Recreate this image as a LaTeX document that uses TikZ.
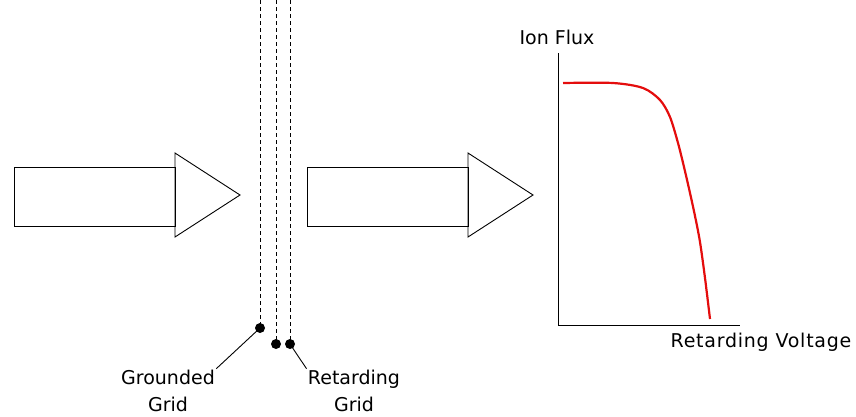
\documentclass[tikz,border=0pt]{standalone}
\usepackage{fontspec}
\setmainfont{DejaVu Sans}
\usetikzlibrary{positioning}
\definecolor{fluxred}{HTML}{E40D0D}

\begin{document}
\begin{tikzpicture}[x=1pt,y=-1pt,line width=0.9pt,font=\fontsize{19}{27}\selectfont]
\useasboundingbox (0,0) rectangle (856,416);
% beam arrows
\foreach \x in {14,307}{
  \draw[fill=white] (\x,167) rectangle (\x+161,226);
  \draw (\x+161,153) -- (\x+226,195) -- (\x+161,237) -- cycle;}
% grids
\coordinate (gnd) at (260,328); \coordinate (ret1) at (276,344); \coordinate (ret2) at (290,344);
\foreach \x/\e in {260/328,276/344,290/344}\draw[dash pattern=on 4pt off 3pt] (\x,0) -- (\x,\e);
\foreach \p in {gnd,ret1,ret2}\fill (\p) circle (5pt);
\node[align=center,inner sep=1pt] (gndlab) at (168,391) {Grounded\\Grid};
\node[align=center,inner sep=1pt] (retlab) at (354,391) {Retarding\\Grid};
\draw (gnd) -- (gndlab.north east);
\draw (ret2) -- (retlab.north west);
% flux curve
\coordinate (origin) at (558,325);
\draw (558,53) -- (origin) -- (740,325);
\node (ylab) at (557,37) {Ion Flux};
\node[font=\fontsize{19}{27}\selectfont\addfontfeature{LetterSpace=4}] (xlab) at (761,342) {Retarding Voltage};
\draw[fluxred,line width=2.2pt] plot[smooth,tension=0.5] coordinates {(563,83) (613,83) (643,88) (660,100) (670,117) (678,143) (684,167) (690,193) (695,216) (700,242) (705,278) (710,319)};
\end{tikzpicture}
\end{document}
